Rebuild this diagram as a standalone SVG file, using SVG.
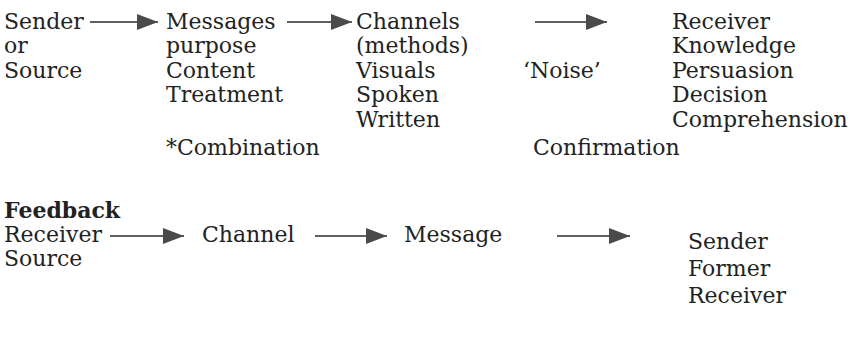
<svg xmlns="http://www.w3.org/2000/svg" width="855" height="343" viewBox="0 0 855 343">
<defs>
<style>
text{font-family:"DejaVu Serif","Liberation Serif",serif;font-size:22px;fill:#222222}
.b{font-weight:bold}
.ln{stroke:#2a2a2a;stroke-width:1.5;fill:none}
</style>
<marker id="ah" markerUnits="userSpaceOnUse" markerWidth="22" markerHeight="16" refX="21" refY="8" orient="auto">
<path d="M0,0 L21,8 L0,16 Z" fill="#4a4a4a"/>
</marker>
</defs>
<rect width="855" height="343" fill="#ffffff"/>
<g id="connectors">
<line class="ln" x1="90" y1="22" x2="158" y2="22" marker-end="url(#ah)"/>
<line class="ln" x1="287" y1="22" x2="352" y2="22" marker-end="url(#ah)"/>
<line class="ln" x1="535" y1="22" x2="607" y2="22" marker-end="url(#ah)"/>
<line class="ln" x1="110" y1="236" x2="184" y2="236" marker-end="url(#ah)"/>
<line class="ln" x1="315" y1="236" x2="387" y2="236" marker-end="url(#ah)"/>
<line class="ln" x1="557" y1="236" x2="630" y2="236" marker-end="url(#ah)"/>
</g>
<g id="sender">
<text x="4" y="29">Sender</text>
<text x="4" y="53">or</text>
<text x="4" y="78">Source</text>
</g>
<g id="messages">
<text x="166" y="29">Messages</text>
<text x="166" y="53">purpose</text>
<text x="166" y="78">Content</text>
<text x="166" y="102">Treatment</text>
<text x="166" y="155">*Combination</text>
</g>
<g id="channels">
<text x="356" y="29">Channels</text>
<text x="356" y="53">(methods)</text>
<text x="356" y="78">Visuals</text>
<text x="356" y="102">Spoken</text>
<text x="356" y="127">Written</text>
</g>
<g id="noise">
<text x="523" y="78">‘Noise’</text>
</g>
<g id="receiver">
<text x="672" y="29">Receiver</text>
<text x="672" y="53">Knowledge</text>
<text x="672" y="78">Persuasion</text>
<text x="672" y="102">Decision</text>
<text x="672" y="127">Comprehension</text>
</g>
<g id="confirmation">
<text x="533" y="155">Confirmation</text>
</g>
<g id="feedback-title">
<text class="b" x="4" y="218">Feedback</text>
</g>
<g id="fb-receiver">
<text x="4" y="242">Receiver</text>
<text x="4" y="266">Source</text>
</g>
<g id="fb-channel">
<text x="202" y="242">Channel</text>
</g>
<g id="fb-message">
<text x="404" y="242">Message</text>
</g>
<g id="fb-sender">
<text x="688" y="249">Sender</text>
<text x="688" y="276">Former</text>
<text x="688" y="303">Receiver</text>
</g>
</svg>
